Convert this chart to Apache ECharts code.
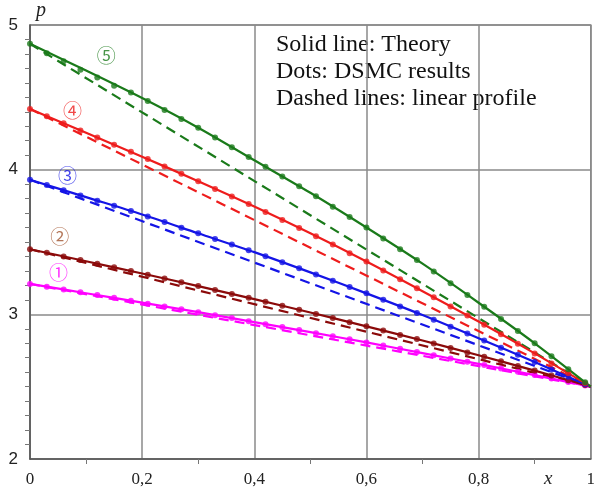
<!DOCTYPE html>
<html>
<head>
<meta charset="utf-8">
<script src="https://cdn.jsdelivr.net/npm/echarts@6/dist/echarts.min.js"></script>
<style>
  html, body { margin: 0; padding: 0; background: #fff; }
  #chart { width: 598px; height: 491px; }
</style>
</head>
<body>
<div id="chart"></div>
<script>
// theory curves, sampled every 0.1
const xTheory = [0, 0.1, 0.2, 0.3, 0.4, 0.5, 0.6, 0.7, 0.8, 0.9, 1];
const theory1 = [3.21, 3.146, 3.081, 3.015, 2.946, 2.877, 2.806, 2.732, 2.657, 2.58, 2.5];
const theory2 = [3.45, 3.367, 3.282, 3.195, 3.105, 3.013, 2.917, 2.819, 2.717, 2.611, 2.5];
const theory3 = [3.93, 3.81, 3.69, 3.56, 3.43, 3.29, 3.145, 2.995, 2.835, 2.67, 2.5];
const theory4 = [4.42, 4.255, 4.09, 3.92, 3.745, 3.56, 3.365, 3.16, 2.95, 2.73, 2.5];
const theory5 = [4.87, 4.685, 4.495, 4.29, 4.065, 3.84, 3.6, 3.35, 3.08, 2.8, 2.5];

// DSMC dots
const xDots = [0, 0.03, 0.06, 0.09, 0.12, 0.15, 0.18, 0.21, 0.24, 0.27, 0.3, 0.33, 0.36, 0.39, 0.42, 0.45, 0.48,
  0.51, 0.54, 0.57, 0.6, 0.63, 0.66, 0.69, 0.72, 0.75, 0.78, 0.81, 0.84, 0.87, 0.9, 0.93, 0.96, 0.99];
const dots1 = [3.21, 3.191, 3.172, 3.152, 3.133, 3.114, 3.094, 3.074, 3.055, 3.035, 3.015, 2.994, 2.974, 2.953, 2.932, 2.912, 2.891,
  2.87, 2.849, 2.827, 2.806, 2.784, 2.762, 2.739, 2.717, 2.695, 2.672, 2.649, 2.626, 2.603, 2.58, 2.556, 2.532, 2.508];
const dots2 = [3.45, 3.425, 3.4, 3.375, 3.35, 3.325, 3.299, 3.273, 3.247, 3.221, 3.195, 3.168, 3.141, 3.114, 3.087, 3.059, 3.031,
  3.003, 2.975, 2.946, 2.917, 2.888, 2.858, 2.829, 2.799, 2.768, 2.737, 2.706, 2.675, 2.643, 2.611, 2.578, 2.544, 2.511];
const dots3 = [3.93, 3.894, 3.858, 3.822, 3.786, 3.75, 3.714, 3.677, 3.638, 3.599, 3.56, 3.521, 3.482, 3.443, 3.402, 3.36, 3.318,
  3.276, 3.232, 3.189, 3.145, 3.1, 3.055, 3.01, 2.963, 2.915, 2.867, 2.819, 2.769, 2.72, 2.67, 2.619, 2.568, 2.517];
const dots4 = [4.42, 4.37, 4.321, 4.271, 4.222, 4.172, 4.123, 4.073, 4.022, 3.971, 3.92, 3.867, 3.815, 3.762, 3.708, 3.652, 3.597,
  3.54, 3.482, 3.423, 3.365, 3.303, 3.242, 3.18, 3.118, 3.055, 2.992, 2.928, 2.862, 2.796, 2.73, 2.661, 2.592, 2.523];
const dots5 = [4.87, 4.805, 4.75, 4.69, 4.637, 4.58, 4.533, 4.474, 4.413, 4.351, 4.29, 4.222, 4.155, 4.087, 4.02, 3.952, 3.885,
  3.816, 3.744, 3.672, 3.6, 3.525, 3.45, 3.375, 3.296, 3.215, 3.134, 3.052, 2.968, 2.884, 2.8, 2.71, 2.62, 2.53];

// linear profiles: from p(0) to p(1)
const xLinear = [0, 1];
const linear1 = [3.21, 2.5];
const linear2 = [3.45, 2.5];
const linear3 = [3.93, 2.5];
const linear4 = [4.42, 2.5];
const linear5 = [4.87, 2.5];

// circled curve numbers
const tagText = ["①", "②", "③", "④", "⑤"];
const tagX = [0.051, 0.053, 0.067, 0.076, 0.136];
const tagY = [3.29, 3.535, 3.96, 4.41, 4.79];

const yTicks = [2, 3, 4, 5];

const colors = ["#ff00ff", "#8b0a0a", "#1414e6", "#ee1c1c", "#1a7a1a"];
const tagColors = ["#ff00ff", "#a0522d", "#1414e6", "#ee1c1c", "#1a7a1a"];

const theoryAll = [theory1, theory2, theory3, theory4, theory5];
const dotsAll = [dots1, dots2, dots3, dots4, dots5];
const linearAll = [linear1, linear2, linear3, linear4, linear5];

const pairs = (xs, ys) => xs.map((x, i) => [x, ys[i]]);

const chart = echarts.init(document.getElementById("chart"));
const series = [];

linearAll.forEach((arr, i) => {
  series.push({
    type: "line",
    data: pairs(xLinear, arr),
    symbol: "none",
    lineStyle: { color: colors[i], width: 2.2, type: [10, 6] },
    z: 2
  });
});
theoryAll.forEach((arr, i) => {
  series.push({
    type: "line",
    data: pairs(xTheory, arr),
    smooth: 0.3,
    symbol: "none",
    lineStyle: { color: colors[i], width: 2.2 },
    z: 3
  });
});
dotsAll.forEach((arr, i) => {
  series.push({
    type: "scatter",
    data: pairs(xDots, arr),
    symbolSize: 6,
    itemStyle: { color: colors[i] },
    z: 4
  });
});
series.push({
  type: "scatter",
  symbolSize: 0,
  data: tagX.map((x, i) => ({
    value: [x, tagY[i]],
    label: {
      show: true,
      position: "inside",
      formatter: tagText[i],
      color: tagColors[i],
      fontSize: 19,
      fontFamily: "Noto Sans CJK SC"
    }
  })),
  z: 5
});

const option = {
  animation: false,
  grid: {
    left: 30,
    right: 4,
    top: 25,
    bottom: 32,
    show: true,
    borderColor: "#8a8a8a",
    borderWidth: 1.5
  },
  xAxis: {
    type: "value",
    min: 0,
    max: 1,
    interval: 0.2,
    axisLine: { show: true, lineStyle: { color: "#555", width: 1.5 } },
    axisTick: { show: false },
    minorTick: { show: true, splitNumber: 2, length: 5, lineStyle: { color: "#777" } },
    splitLine: { show: true, lineStyle: { color: "#8a8a8a", width: 1.5 } },
    axisLabel: {
      margin: 12,
      color: "#222",
      fontSize: 17,
      fontFamily: "Liberation Serif",
      formatter: v => String(v).replace(".", ",")
    }
  },
  yAxis: {
    type: "value",
    min: 2,
    max: 5,
    interval: 1,
    axisLine: { show: true, lineStyle: { color: "#555", width: 1.5 } },
    axisTick: { show: false },
    minorTick: { show: true, splitNumber: 10, length: 5, lineStyle: { color: "#777" } },
    splitLine: { show: true, lineStyle: { color: "#8a8a8a", width: 1.5 } },
    axisLabel: {
      margin: 12,
      color: "#222",
      fontSize: 17,
      fontFamily: "Liberation Sans",
      formatter: v => (yTicks.includes(v) ? String(v) : "")
    }
  },
  graphic: [
    {
      type: "text",
      left: 36,
      top: 1,
      style: { text: "p", font: "italic 20px 'Liberation Serif'", fill: "#222" }
    },
    {
      type: "text",
      left: 544,
      top: 469,
      style: { text: "x", font: "italic 19px 'Liberation Serif'", fill: "#222" }
    },
    {
      type: "text",
      left: 276,
      top: 31,
      style: {
        text: "Solid line: Theory\nDots: DSMC results\nDashed lines: linear profile",
        font: "24px 'Liberation Serif'",
        lineHeight: 27,
        fill: "#111"
      }
    }
  ],
  series: series
};
chart.setOption(option);
</script>
</body>
</html>
